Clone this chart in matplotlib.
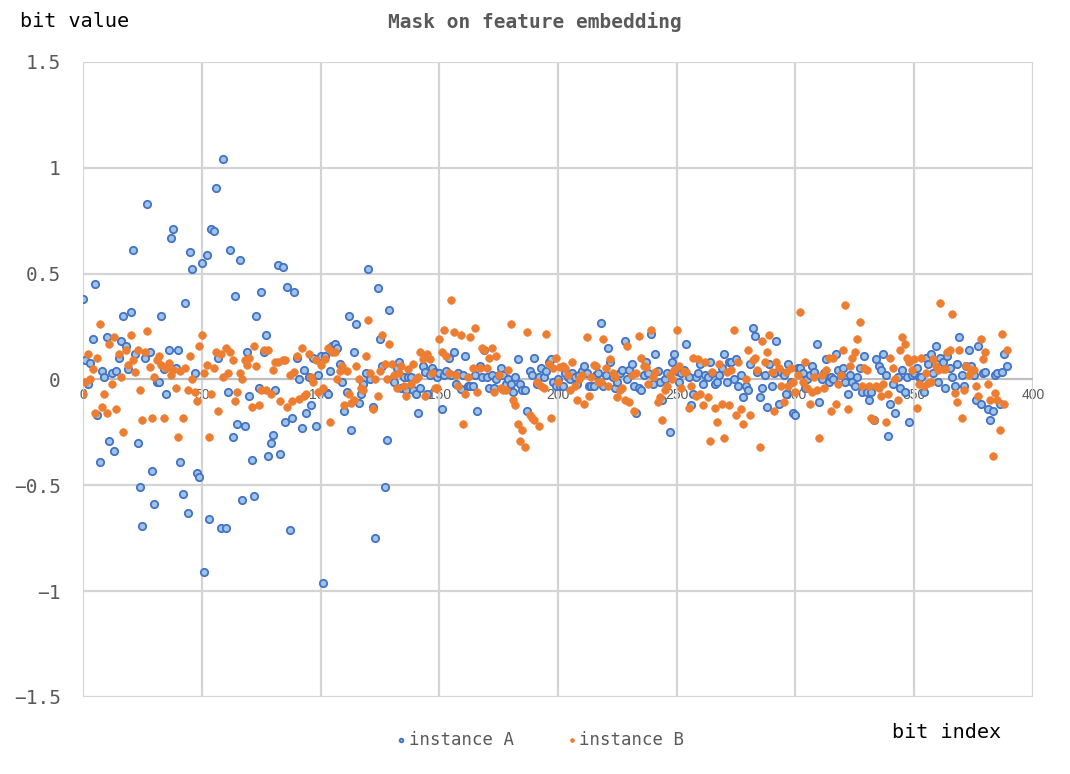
import numpy as np
import matplotlib.pyplot as plt

# values, one per bit index
inst_a = [
    0.38, 0.09, -0.02, 0.08, 0.19, 0.45, -0.17, -0.39, 0.04, 0.01,
    0.20, -0.29, 0.03, -0.34, 0.04, 0.10, 0.18, 0.30, 0.16, 0.05,
    0.32, 0.61, 0.12, -0.30, -0.51, -0.69, 0.10, 0.83, 0.13, -0.43,
    -0.59, -0.01, -0.01, 0.30, 0.05, -0.07, 0.14, 0.67, 0.71, 0.055,
    0.14, -0.39, -0.54, 0.36, -0.63, 0.60, 0.52, 0.03, -0.44, -0.46,
    0.55, -0.91, 0.59, -0.66, 0.71, 0.70, 0.905, 0.10, -0.70, 1.04,
    -0.70, -0.06, 0.61, -0.27, 0.395, -0.21, 0.565, -0.57, -0.22, 0.13,
    -0.08, -0.38, -0.55, 0.30, -0.04, 0.415, 0.13, 0.21, -0.36, -0.30,
    -0.26, -0.05, 0.54, -0.35, 0.53, -0.20, 0.435, -0.71, -0.18, 0.415,
    0.10, 0.0, -0.23, 0.045, -0.16, 0.01, -0.12, 0.10, -0.22, 0.02,
    0.11, -0.96, 0.11, -0.07, 0.04, 0.16, 0.17, 0.15, 0.075, -0.01,
    -0.15, -0.06, 0.30, -0.24, 0.13, 0.26, -0.11, -0.07, -0.02, 0.03,
    0.52, 0.0, -0.13, -0.75, 0.43, 0.19, 0.065, -0.51, -0.285, 0.33,
    0.0, -0.01, 0.055, 0.085, -0.04, 0.01, -0.05, 0.01, 0.01, -0.05,
    -0.07, -0.16, -0.04, 0.065, 0.035, -0.07, 0.02, 0.055, 0.035, 0.01,
    0.03, -0.14, 0.02, 0.04, 0.10, 0.02, 0.13, -0.02, 0.03, -0.045,
    0.02, 0.11, -0.03, -0.03, -0.03, 0.02, -0.15, 0.065, 0.01, 0.14,
    0.01, -0.04, 0.02, -0.04, 0.0, 0.02, 0.055, 0.02, -0.02, 0.0,
    -0.02, -0.06, 0.01, 0.095, -0.02, -0.05, -0.05, -0.15, 0.04, 0.02,
    0.10, -0.02, 0.01, 0.055, 0.01, 0.04, 0.085, 0.095, -0.01, -0.03,
    0.0, -0.03, -0.03, 0.03, 0.01, 0.0, 0.03, 0.01, -0.02, 0.02,
    0.04, 0.065, 0.03, -0.03, -0.03, -0.03, 0.02, 0.03, 0.265, -0.03,
    0.02, 0.15, 0.085, 0.01, -0.04, -0.01, 0.03, 0.045, 0.18, 0.0,
    0.045, 0.075, -0.03, -0.16, -0.04, -0.05, 0.02, 0.085, 0.03, 0.215,
    -0.02, 0.12, 0.04, -0.01, -0.095, 0.0, 0.03, -0.25, 0.085, 0.12,
    0.04, -0.01, 0.03, 0.045, 0.17, 0.01, -0.12, -0.07, 0.01, 0.03,
    0.075, -0.02, 0.02, 0.01, 0.085, 0.03, -0.02, -0.01, 0.02, 0.055,
    0.12, -0.01, 0.085, 0.085, 0.0, 0.095, -0.03, 0.02, -0.085, -0.03,
    -0.05, 0.075, 0.245, 0.205, 0.035, -0.085, -0.04, 0.02, -0.13, 0.075,
    -0.03, 0.03, 0.18, -0.115, 0.035, 0.02, -0.07, 0.075, -0.01, -0.16,
    -0.17, 0.055, 0.055, 0.03, -0.04, 0.0, 0.02, 0.065, 0.035, 0.17,
    -0.105, 0.0, 0.03, 0.095, -0.01, 0.01, 0.0, 0.12, 0.045, 0.02,
    0.055, -0.01, -0.07, 0.02, -0.01, -0.03, 0.01, 0.055, -0.06, 0.11,
    -0.06, -0.095, -0.06, -0.19, 0.095, 0.065, 0.045, 0.12, 0.02, -0.265,
    -0.115, -0.02, -0.16, 0.01, -0.04, 0.045, -0.06, 0.01, -0.20, 0.02,
    0.03, 0.055, 0.01, 0.01, -0.06, 0.10, 0.075, 0.12, 0.03, 0.16,
    -0.01, 0.10, 0.085, -0.04, 0.11, 0.055, 0.01, -0.03, 0.075, 0.20,
    0.02, -0.03, 0.065, 0.14, 0.065, 0.02, -0.095, 0.16, -0.115, 0.03,
    0.035, -0.14, -0.19, -0.15, 0.02, 0.03, -0.115, 0.035, 0.12, 0.065,
]

inst_b = [
    -0.07, -0.01, 0.12, 0.0, 0.05, -0.16, 0.10, 0.26, -0.13, -0.07,
    -0.16, 0.17, -0.02, 0.20, -0.14, 0.12, 0.01, -0.25, 0.14, 0.07,
    0.21, 0.09, 0.035, 0.14, -0.05, -0.19, 0.13, 0.23, 0.06, -0.18,
    0.01, 0.09, 0.11, 0.07, -0.18, 0.055, 0.08, 0.02, 0.045, -0.04,
    -0.27, 0.04, -0.18, 0.055, -0.05, 0.11, 0.0, -0.06, -0.10, 0.16,
    0.21, 0.03, 0.07, -0.27, -0.07, 0.055, 0.13, -0.15, 0.12, 0.01,
    0.15, 0.03, 0.13, 0.09, -0.10, -0.06, 0.03, 0.0, 0.09, 0.07,
    0.10, -0.13, 0.16, 0.065, -0.12, -0.05, 0.14, -0.05, 0.14, -0.07,
    0.045, 0.085, 0.085, -0.10, 0.09, 0.09, -0.13, 0.02, -0.10, 0.035,
    0.11, -0.09, 0.15, -0.08, -0.07, 0.12, 0.01, -0.01, 0.09, -0.06,
    0.07, -0.04, 0.095, 0.15, -0.20, 0.13, 0.13, 0.0, 0.04, 0.065,
    -0.12, 0.04, -0.07, -0.11, -0.095, 0.065, 0.0, -0.04, -0.05, 0.11,
    0.28, 0.03, -0.14, 0.0, -0.08, 0.04, 0.21, 0.075, 0.0, 0.17,
    0.075, 0.02, -0.04, 0.03, 0.065, -0.03, -0.08, 0.05, -0.02, 0.075,
    0.0, 0.01, 0.13, 0.095, -0.08, 0.12, 0.095, 0.03, -0.04, -0.04,
    0.19, 0.13, 0.235, 0.11, 0.03, 0.375, 0.225, 0.02, -0.03, 0.21,
    -0.21, -0.07, 0.01, 0.20, 0.055, 0.245, -0.06, 0.055, 0.15, 0.14,
    0.055, 0.10, 0.15, -0.06, 0.11, 0.02, -0.04, -0.05, -0.05, 0.045,
    0.26, -0.095, -0.12, -0.21, -0.29, -0.24, -0.32, 0.225, -0.17, -0.18,
    -0.19, -0.01, -0.22, -0.03, -0.04, 0.215, 0.075, -0.18, 0.055, 0.10,
    -0.01, 0.06, 0.065, 0.055, 0.02, -0.05, 0.085, -0.03, -0.095, 0.0,
    0.02, -0.115, 0.20, -0.08, 0.01, 0.07, 0.065, -0.01, -0.01, 0.19,
    0.055, -0.03, 0.095, 0.03, 0.01, -0.085, -0.05, -0.04, -0.095, 0.16,
    -0.105, 0.02, -0.15, 0.03, 0.205, 0.10, 0.065, 0.06, -0.02, 0.235,
    0.01, 0.035, -0.105, -0.085, -0.19, -0.05, -0.03, 0.02, 0.0, 0.045,
    0.235, 0.065, -0.04, 0.035, 0.035, -0.135, -0.03, 0.10, -0.08, 0.095,
    -0.07, -0.12, 0.085, -0.085, -0.29, 0.035, -0.135, -0.20, 0.075, -0.115,
    -0.275, 0.035, -0.12, 0.045, 0.235, -0.17, 0.085, -0.14, -0.21, 0.0,
    0.14, -0.17, 0.09, 0.10, 0.045, -0.32, 0.18, 0.085, 0.13, 0.21,
    0.035, -0.15, 0.085, 0.055, -0.03, -0.105, 0.035, -0.03, 0.055, -0.01,
    -0.06, 0.02, 0.32, -0.01, 0.085, -0.04, -0.115, -0.06, 0.01, -0.05,
    -0.275, 0.02, -0.04, 0.045, 0.10, -0.15, 0.10, -0.115, -0.02, 0.02,
    0.14, 0.35, -0.14, 0.065, 0.10, 0.13, 0.19, 0.27, -0.03, 0.055,
    0.045, -0.03, -0.18, -0.19, -0.03, -0.04, -0.08, -0.02, -0.20, -0.07,
    0.10, 0.055, 0.0, -0.095, 0.14, 0.20, 0.17, 0.10, 0.085, 0.045,
    0.095, -0.135, -0.02, 0.10, -0.03, 0.03, -0.015, -0.01, 0.095, 0.065,
    0.045, 0.36, 0.05, 0.05, 0.13, 0.14, 0.31, -0.065, -0.105, 0.14,
    -0.18, -0.05, 0.065, 0.02, 0.045, 0.045, -0.03, -0.08, 0.19, 0.095,
    0.13, -0.02, -0.095, -0.36, -0.065, -0.095, -0.24, 0.215, -0.115, 0.14,
]

x_ticks = [0, 50, 100, 150, 200, 250, 300, 350, 400]
y_ticks = [-1.5, -1, -0.5, 0, 0.5, 1, 1.5]
y_labels = ['\u22121.5', '\u22121', '\u22120.5', '0', '0.5', '1', '1.5']

mono = 'DejaVu Sans Mono'
grey = '#595959'
grid_col = '#d4d4d4'

fig = plt.figure(figsize=(10.7, 7.74), dpi=100)
ax = fig.add_axes([0.0776, 0.0995, 0.8878, 0.8204])

# gridlines, one line per tick, kept under the markers
for xv in x_ticks:
    ax.plot([xv, xv], [-1.5, 1.5], color=grid_col, linewidth=1.6, zorder=2)
for yv in y_ticks:
    ax.plot([0, 400], [yv, yv], color='#bfbfbf' if yv == 0 else grid_col,
            linewidth=1.6, zorder=2)

ax.scatter(np.arange(len(inst_a)), inst_a, s=28, facecolor='#9dc3e6',
           edgecolor='#4472c4', linewidth=1.3, label='instance A', zorder=3)
ax.scatter(np.arange(len(inst_b)), inst_b, s=30, facecolor='#ed7d31',
           edgecolor='#ed7d31', linewidth=0.5, label='instance B', zorder=4)

ax.set_xlim(0, 400)
ax.set_ylim(-1.5, 1.5)
ax.set_xticks(x_ticks)
ax.set_yticks(y_ticks)
ax.set_yticklabels(y_labels)

for side in ['top', 'right', 'left', 'bottom']:
    ax.spines[side].set_visible(False)
ax.spines['bottom'].set_position(('data', 0))

ax.tick_params(axis='both', length=0)
ax.tick_params(axis='x', labelsize=10, labelcolor=grey, pad=6)
ax.tick_params(axis='y', labelsize=14, labelcolor=grey, pad=16)
for lbl in ax.get_yticklabels():
    lbl.set_family(mono)
for lbl in ax.get_xticklabels():
    lbl.set_family('Liberation Sans')

fig.text(0.5, 0.972, 'Mask on feature embedding', ha='center', va='center',
         fontsize=14, fontweight='bold', family=mono, color=grey)
fig.text(0.019, 0.972, 'bit value', ha='left', va='center',
         fontsize=14.5, family=mono, color='black')
fig.text(0.834, 0.053, 'bit index', ha='left', va='center',
         fontsize=14.5, family=mono, color='black')

handles = ax.collections
leg = fig.legend(handles, ['instance A', 'instance B'], loc='center',
                 bbox_to_anchor=(0.505, 0.044), ncol=2,
                 frameon=False, markerscale=0.5, handletextpad=0.15,
                 columnspacing=3.0, handlelength=0.6,
                 prop={'family': mono, 'size': 12.5})
for t in leg.get_texts():
    t.set_color(grey)

fig.savefig('out.png', dpi=100)
